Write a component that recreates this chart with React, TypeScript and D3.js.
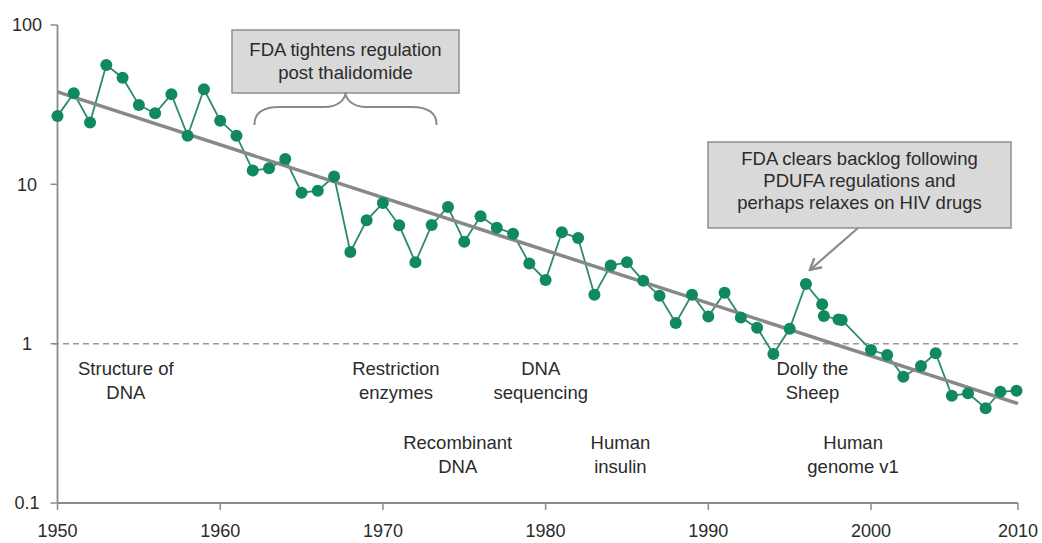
import React from "react";
import * as d3 from "d3";

// ---- data ----
const years = [
  1950, 1951, 1952, 1953, 1954, 1955, 1956, 1957, 1958, 1959,
  1960, 1961, 1962, 1963, 1964, 1965, 1966, 1967, 1968, 1969,
  1970, 1971, 1972, 1973, 1974, 1975, 1976, 1977, 1978, 1979,
  1980, 1981, 1982, 1983, 1984, 1985, 1986, 1987, 1988, 1989,
  1990, 1991, 1992, 1993, 1994, 1995, 1996, 1997, 1997.1, 1998, 1998.2,
  2000, 2001.1, 2002.2, 2003.4, 2004.4, 2005.5, 2006.6, 2007.8, 2008.8, 2009.9,
];
const drugsPerBillion = [
  26.8, 37.3, 24.4, 56.1, 46.7, 31.5, 27.9, 36.7, 20.2, 39.5,
  25.1, 20.2, 12.2, 12.6, 14.4, 8.86, 9.12, 11.2, 3.76, 5.95,
  7.63, 5.53, 3.24, 5.56, 7.21, 4.36, 6.3, 5.34, 4.9, 3.18,
  2.51, 5.0, 4.6, 2.03, 3.09, 3.24, 2.48, 2.0, 1.35, 2.03,
  1.48, 2.09, 1.46, 1.26, 0.861, 1.24, 2.37, 1.77, 1.49, 1.42, 1.41,
  0.912, 0.849, 0.621, 0.724, 0.87, 0.471, 0.488, 0.393, 0.499, 0.507,
];
const trendYears = [1950, 2010];
const trendValues = [38, 0.42];

const xTicks = [1950, 1960, 1970, 1980, 1990, 2000, 2010];
const yTicks = [0.1, 1, 10, 100];
const yTickLabels = ["0.1", "1", "10", "100"];

const eventLabels = [
  { year: 1954.2, row: 0, lines: ["Structure of", "DNA"] },
  { year: 1970.8, row: 0, lines: ["Restriction", "enzymes"] },
  { year: 1974.6, row: 1, lines: ["Recombinant", "DNA"] },
  { year: 1979.7, row: 0, lines: ["DNA", "sequencing"] },
  { year: 1984.6, row: 1, lines: ["Human", "insulin"] },
  { year: 1996.4, row: 0, lines: ["Dolly the", "Sheep"] },
  { year: 1998.9, row: 1, lines: ["Human", "genome v1"] },
];

const box1Lines = ["FDA tightens regulation", "post thalidomide"];
const box2Lines = [
  "FDA clears backlog following",
  "PDUFA regulations and",
  "perhaps relaxes on HIV drugs",
];

const W = 1042;
const H = 543;
const FONT = "'Liberation Sans', Arial, Helvetica, sans-serif";
const GREEN = "#108a5c";
const LINE_GREEN = "#2a8c68";
const AXIS = "#8a8a8a";
const TEXT = "#2b2b2b";

export default function App() {
  const x = d3
    .scaleLinear()
    .domain([1950, 2000, 2010])
    .range([57.5, 871, 1018]);
  const y = d3.scaleLog().domain([0.1, 100]).range([503, 25]);

  const pts = years.map((yr, i) => [yr, drugsPerBillion[i]] as [number, number]);
  const line = d3
    .line<[number, number]>()
    .x((d) => x(d[0]))
    .y((d) => y(d[1]));
  const trend = trendYears.map((yr, i) => [yr, trendValues[i]] as [number, number]);

  const x0 = x(1950);
  const x1 = x(2010);
  const yBase = y(0.1);

  // brace under box 1
  const bL = x(1962.1);
  const bR = x(1973.3);
  const bM = (bL + bR) / 2;
  const bracePath = `M${bL},125 C${bL},112 ${bL + 10},107 ${bL + 25},107 L${bM - 21},107 C${bM - 8},107 ${bM},100 ${bM},92 C${bM},100 ${bM + 8},107 ${bM + 21},107 L${bR - 25},107 C${bR - 10},107 ${bR},112 ${bR},125`;

  // arrow from box 2 to 1996 peak
  const ax1 = 858;
  const ay1 = 228;
  const ax2 = x(1996) + 4;
  const ay2 = y(2.37) - 14;

  return (
    <svg
      width={W}
      height={H}
      style={{ position: "absolute", left: 0, top: 0, background: "#fff" }}
      fontFamily={FONT}
    >
      <defs>
        <marker
          id="arr"
          viewBox="0 0 14 14"
          refX="12"
          refY="7"
          markerWidth="14"
          markerHeight="14"
          orient="auto"
          markerUnits="userSpaceOnUse"
        >
          <path d="M1,1 L12,7 L1,13" fill="none" stroke={AXIS} strokeWidth={2.4} />
        </marker>
      </defs>

      {/* reference line at 1 */}
      <line
        x1={53}
        x2={x1}
        y1={y(1)}
        y2={y(1)}
        stroke="#9a9a9a"
        strokeWidth={1.5}
        strokeDasharray="6,4"
      />

      {/* axes */}
      <line x1={x0} x2={x0} y1={y(100)} y2={yBase} stroke={AXIS} strokeWidth={1.8} />
      <line x1={x0} x2={x1} y1={yBase} y2={yBase} stroke={AXIS} strokeWidth={1.8} />
      {yTicks.map((t, i) => (
        <g key={"y" + t}>
          <line x1={x0 - 7} x2={x0} y1={y(t)} y2={y(t)} stroke={AXIS} strokeWidth={1.5} />
          <text
            x={27}
            y={y(t)}
            dy="0.36em"
            textAnchor="middle"
            fontSize={18}
            fill={TEXT}
          >
            {yTickLabels[i]}
          </text>
        </g>
      ))}
      {xTicks.map((t) => (
        <g key={"x" + t}>
          <line x1={x(t)} x2={x(t)} y1={yBase} y2={yBase + 7} stroke={AXIS} strokeWidth={1.5} />
          <text x={x(t)} y={537} textAnchor="middle" fontSize={18} fill={TEXT}>
            {t}
          </text>
        </g>
      ))}

      {/* event labels */}
      {eventLabels.map((e, i) => (
        <text
          key={"e" + i}
          x={x(e.year)}
          textAnchor="middle"
          fontSize={18.5}
          fill={TEXT}
        >
          {e.lines.map((l, j) => (
            <tspan key={j} x={x(e.year)} y={(e.row === 0 ? 375 : 449) + j * 23.5}>
              {l}
            </tspan>
          ))}
        </text>
      ))}

      {/* data line + dots */}
      <path d={line(pts) || ""} fill="none" stroke={LINE_GREEN} strokeWidth={1.8} />
      {/* trend */}
      <path d={line(trend) || ""} fill="none" stroke="#888888" strokeWidth={3.5} />
      {pts.map((d, i) => (
        <circle key={"p" + i} cx={x(d[0])} cy={y(d[1])} r={6} fill={GREEN} />
      ))}

      {/* annotation box 1 */}
      <rect x={232} y={30} width={227} height={63} fill="#d9d9d9" stroke="#8f8f8f" strokeWidth={1.5} />
      {box1Lines.map((l, j) => (
        <text
          key={"b1" + j}
          x={345.5}
          y={56 + j * 23}
          textAnchor="middle"
          fontSize={18.5}
          fill={TEXT}
        >
          {l}
        </text>
      ))}
      <path d={bracePath} fill="none" stroke="#8a8a8a" strokeWidth={2} />

      {/* annotation box 2 */}
      <rect x={708} y={142} width={303} height={86} fill="#d9d9d9" stroke="#8f8f8f" strokeWidth={1.5} />
      {box2Lines.map((l, j) => (
        <text
          key={"b2" + j}
          x={859.5}
          y={165 + j * 22}
          textAnchor="middle"
          fontSize={18.5}
          fill={TEXT}
        >
          {l}
        </text>
      ))}
      <line
        x1={ax1}
        y1={ay1}
        x2={ax2}
        y2={ay2}
        stroke={AXIS}
        strokeWidth={2.2}
        markerEnd="url(#arr)"
      />
    </svg>
  );
}
